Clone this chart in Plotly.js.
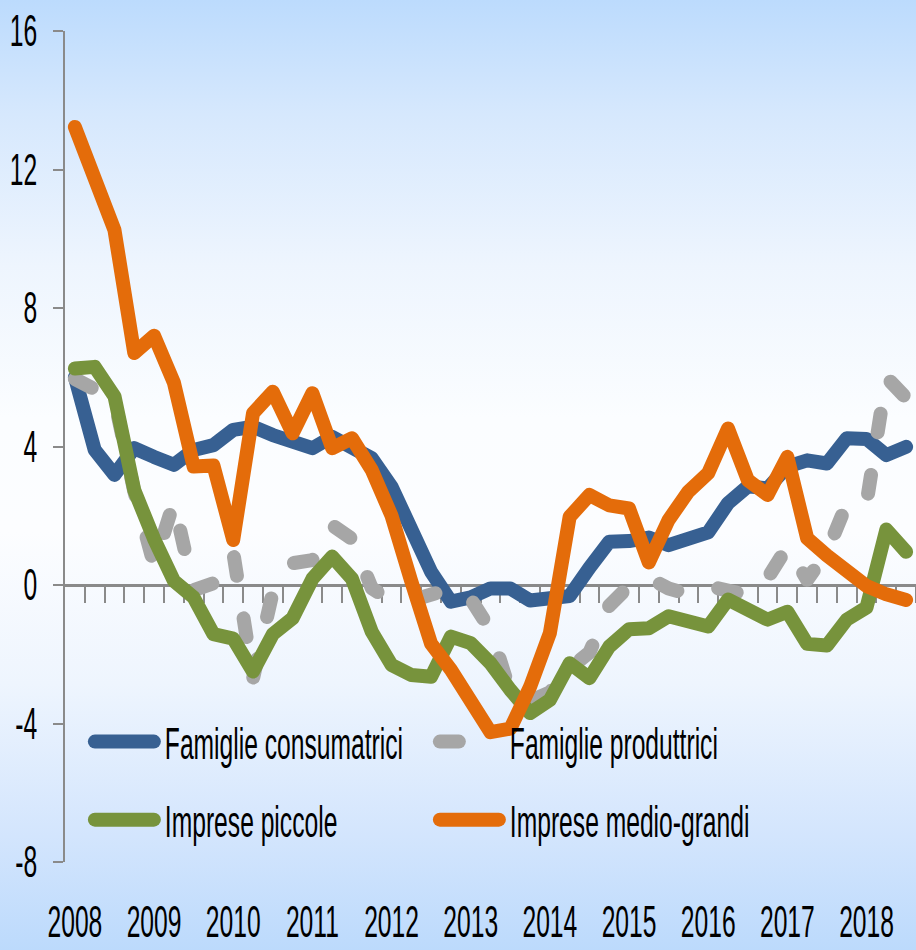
<!DOCTYPE html>
<html>
<head>
<meta charset="utf-8">
<script src="https://cdn.plot.ly/plotly-3.0.1.min.js"></script>
<style>
html, body { margin: 0; padding: 0; }
body {
  width: 916px; height: 950px; overflow: hidden;
  background: linear-gradient(to bottom, #bcdbfd 0%, #d6e8fd 12%, #eef5fe 28%, #fbfdff 44%, #fcfdff 56%, #eef5fe 72%, #d3e5fd 88%, #bcdafc 100%);
}
#chart { width: 916px; height: 950px; }
.js-line { stroke-linecap: round; stroke-linejoin: round; }
#chart g.traces text.legendtext,
#chart g.traces text.legend2text {
  transform-box: fill-box;
  transform-origin: 0% 50%;
  transform: scaleX(0.56);
}
</style>
</head>
<body>
<div id="chart"></div>
<script>
// ---- data ----
const quarters = [
  '2008-T1','2008-T2','2008-T3','2008-T4',
  '2009-T1','2009-T2','2009-T3','2009-T4',
  '2010-T1','2010-T2','2010-T3','2010-T4',
  '2011-T1','2011-T2','2011-T3','2011-T4',
  '2012-T1','2012-T2','2012-T3','2012-T4',
  '2013-T1','2013-T2','2013-T3','2013-T4',
  '2014-T1','2014-T2','2014-T3','2014-T4',
  '2015-T1','2015-T2','2015-T3','2015-T4',
  '2016-T1','2016-T2','2016-T3','2016-T4',
  '2017-T1','2017-T2','2017-T3','2017-T4',
  '2018-T1','2018-T2','2018-T3'
];
const yearLabels = ['2008','2009','2010','2011','2012','2013','2014','2015','2016','2017','2018'];
const yTicks = [-8, -4, 0, 4, 8, 12, 16];

const famiglieConsumatrici = [
  6.0, 3.9, 3.18, 3.95, 3.7, 3.47, 3.9, 4.04, 4.48, 4.57, 4.33,
  4.19, 3.95, 4.28, 3.99, 3.66, 2.84, 1.49, 0.38, -0.48, -0.36, -0.1,
  -0.1, -0.45, -0.43, -0.32, 0.5, 1.25, 1.27, 1.37, 1.15, 1.3, 1.52,
  2.36, 2.85, 2.79, 3.42, 3.6, 3.51, 4.24, 4.22, 3.75, 3.99
];
const famiglieProduttrici = [
  5.95, 5.65, 5.35, 2.7, 0.58, 2.4, -0.15, 0.05, 0.95, -2.7, -0.2,
  0.63, 0.72, 1.73, 1.33, -0.09, -0.48, -0.45, -0.3, -0.1, -0.4, -1.3,
  -3.1, -3.35, -3.1, -2.4, -1.95, -0.6, -0.03, 0.2, -0.1, -0.26, -0.03,
  -0.15, -0.29, 0.2, 1.1, 0.15, 0.95, 2.35, 2.35, 6.0, 5.4
];
const impresePiccole = [
  6.25, 6.3, 5.45, 2.74, 1.33, 0.12, -0.36, -1.42, -1.55, -2.5, -1.42,
  -0.96, 0.18, 0.82, 0.18, -1.35, -2.31, -2.6, -2.65, -1.49, -1.68, -2.26,
  -3.03, -3.7, -3.32, -2.26, -2.69, -1.78, -1.28, -1.25, -0.9, -1.0, -1.2,
  -0.42, -0.67, -1.0, -0.77, -1.7, -1.75, -1.0, -0.65, 1.6, 0.96
];
const impreseMedioGrandi = [
  13.23, 11.67, 10.25, 6.7, 7.2, 5.85, 3.42, 3.45, 1.3, 4.96, 5.58,
  4.38, 5.54, 3.95, 4.24, 3.32, 2.0, 0.1, -1.7, -2.45, -3.32, -4.25,
  -4.15, -2.94, -1.39, 1.97, 2.6, 2.3, 2.21, 0.65, 1.88, 2.7, 3.23,
  4.52, 3.03, 2.6, 3.7, 1.35, 0.85, 0.35, -0.03, -0.27, -0.43
];

// ---- build ----
const xIdx = quarters.map((q, i) => i);
const boundaries = quarters.map((q, i) => i + 0.5);
const yearTickVals = yearLabels.map(y => quarters.indexOf(y + '-T1'));
const xRange = [-0.5, quarters.length - 0.5];
const yMin = yTicks[0], yMax = yTicks[yTicks.length - 1];

const FONT = '"Liberation Sans", Arial, sans-serif';
const AXIS = '#8a8a8a';

const series = [
  { name: 'Famiglie consumatrici', y: famiglieConsumatrici, color: '#376092', dash: 'solid', legend: 'legend' },
  { name: 'Famiglie produttrici', y: famiglieProduttrici, color: '#a6a6a6', dash: '19px,43px', legend: 'legend' },
  { name: 'Imprese piccole', y: impresePiccole, color: '#77933c', dash: 'solid', legend: 'legend2' },
  { name: 'Imprese medio-grandi', y: impreseMedioGrandi, color: '#e46c0a', dash: 'solid', legend: 'legend2' }
];

const data = series.map(s => ({
  type: 'scatter', mode: 'lines', x: xIdx, y: s.y, name: s.name,
  text: quarters, legend: s.legend, hoverinfo: 'skip',
  line: { color: s.color, width: 14, dash: s.dash }
}));

const legendBase = {
  orientation: 'h', xanchor: 'left', yanchor: 'middle', x: 0.021,
  bgcolor: 'rgba(0,0,0,0)', borderwidth: 0,
  itemwidth: 72, entrywidth: 258, entrywidthmode: 'pixels',
  font: { family: FONT, size: 44, color: '#000' }
};

const layout = {
  width: 916, height: 950,
  margin: { l: 65, r: 0, t: 31, b: 88, pad: 0 },
  paper_bgcolor: 'rgba(0,0,0,0)', plot_bgcolor: 'rgba(0,0,0,0)',
  font: { family: FONT, size: 44, color: '#000' },
  showlegend: true, hovermode: false,
  xaxis: {
    range: xRange, anchor: 'free', position: (0 - yMin) / (yMax - yMin),
    showgrid: false, zeroline: false, showline: true, linecolor: AXIS, linewidth: 3,
    tickmode: 'array', tickvals: yearTickVals, ticktext: yearLabels, ticks: '', tickangle: 0,
    tickfont: { family: FONT, size: 44, color: '#000' },
    ticklabelstandoff: 297,
    minor: { tickmode: 'array', tickvals: boundaries, ticks: 'outside', ticklen: 16, tickwidth: 2, tickcolor: AXIS, showgrid: false },
    layer: 'below traces', fixedrange: true
  },
  yaxis: {
    range: [yMin, yMax], domain: [0, 1],
    tickmode: 'array', tickvals: yTicks, ticktext: yTicks.map(String),
    showgrid: false, zeroline: false, showline: true, linecolor: AXIS, linewidth: 2,
    ticks: 'outside', ticklen: 10, tickwidth: 2, tickcolor: AXIS,
    tickfont: { family: FONT, size: 44, color: '#000' },
    ticklabelstandoff: 7, fixedrange: true, layer: 'below traces'
  },
  legend: Object.assign({}, legendBase, { y: 0.1444 }),
  legend2: Object.assign({}, legendBase, { y: 0.0505 })
};

const gd = document.getElementById('chart');
const SX = 0.56;
let busy = false;
function squeeze() {
  if (busy) return;
  busy = true;
  try {
    gd.querySelectorAll('.xtick text, .ytick text').forEach(t => {
      const cur = t.getAttribute('transform') || '';
      if (t.__sq !== undefined && t.__sq === cur) return;
      const ax = parseFloat(t.getAttribute('x')) || 0;
      const next = cur + ' translate(' + ax + ',0) scale(' + SX + ',1) translate(' + (-ax) + ',0)';
      t.setAttribute('transform', next);
      t.__sq = next;
    });
    gd.querySelectorAll('g.traces').forEach(g => {
      const txt = g.querySelector('text.legendtext, text.legend2text');
      const T = txt ? (parseFloat(txt.getAttribute('x')) || 82) : 82;
      const d = 'M' + (T - 70) + ',0h59';
      g.querySelectorAll('.js-line').forEach(p => {
        if (p.getAttribute('d') !== d) p.setAttribute('d', d);
        if (p.style.strokeWidth !== '14px') p.style.strokeWidth = '14px';
      });
    });
  } finally {
    busy = false;
  }
}
const mo = new MutationObserver(() => squeeze());
Plotly.newPlot(gd, data, layout, { staticPlot: true, displayModeBar: false }).then(() => {
  squeeze();
  mo.observe(gd, { subtree: true, childList: true, attributes: true });
  if (gd.on) gd.on('plotly_afterplot', squeeze);
  requestAnimationFrame(squeeze);
  setTimeout(squeeze, 30);
  setTimeout(squeeze, 200);
});
</script>
</body>
</html>
